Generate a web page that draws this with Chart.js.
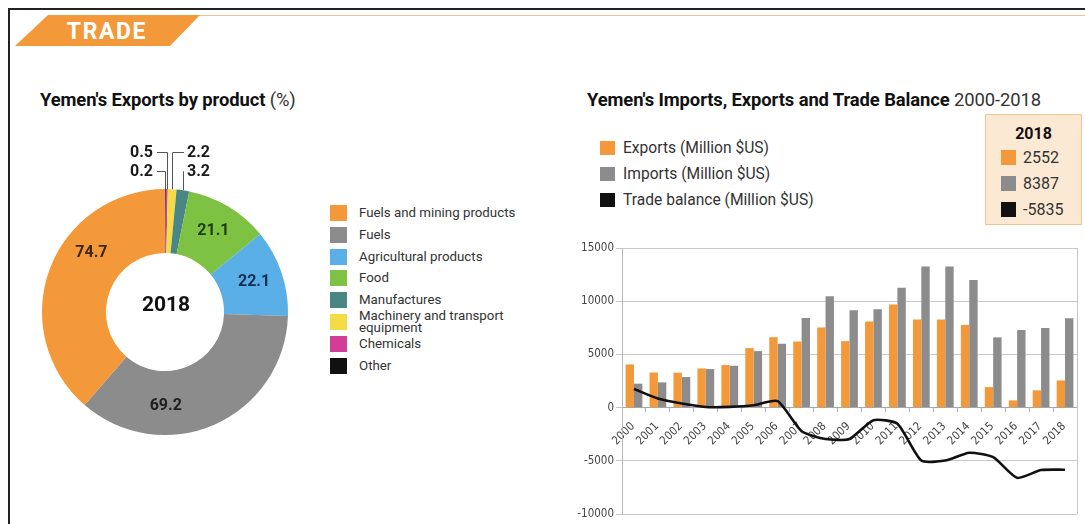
<!DOCTYPE html>
<html>
<head>
<meta charset="utf-8">
<title>Yemen trade</title>
<script src="https://cdn.jsdelivr.net/npm/chart.js@4/dist/chart.umd.min.js"></script>
<style>
  html, body { margin: 0; padding: 0; background: #fff; width: 1085px; height: 524px; overflow: hidden; }
  body { position: relative; font-family: Roboto, "Noto Sans", sans-serif; color: #2a2a2a; }
  .frame { position: absolute; left: 8px; top: 8px; width: 1100px; height: 540px; border-left: 2px solid #222; border-top: 2px solid #222; }
  .rule { position: absolute; left: 195px; right: 0; top: 15px; height: 1px; background: #f2c590; }
  .banner { position: absolute; left: 0; top: 0; }
  .title { position: absolute; font-size: 18.4px; line-height: 20px; font-weight: 700; color: #111; white-space: nowrap; letter-spacing: -0.1px; }
  .title span { font-weight: 400; color: #333; }
  .leg { position: absolute; }
  .leg .sw { position: absolute; }
  .leg .tx { position: absolute; white-space: nowrap; }
  #pieLegend .tx { font-size: 13.3px; line-height: 12px; color: #333; }
  #tradeLegend .tx { font-size: 15.6px; line-height: 16px; color: #333; }
  .box { position: absolute; left: 985px; top: 114px; width: 97px; height: 111px; background: #fce9d4; border: 1px solid #efc594; box-sizing: border-box; }
  .box .hd { position: absolute; left: 0; right: 0; top: 9px; text-align: center; font-weight: 700; font-size: 16px; color: #111; }
  .box .sw { position: absolute; left: 15px; width: 15px; height: 15px; }
  .box .tx { position: absolute; left: 37px; font-size: 16px; line-height: 16px; color: #333; }
  canvas { position: absolute; }
</style>
</head>
<body>
<div class="frame"></div>
<div class="rule"></div>
<svg class="banner" width="230" height="60">
  <polygon points="48,15 200,15 170,46 15,46" fill="#f4993a"/>
  <text x="107" y="38.5" text-anchor="middle" fill="#fff" font-family="Roboto, sans-serif" font-weight="700" font-size="23" letter-spacing="1.6">TRADE</text>
</svg>

<div class="title" style="left:40px; top:90px;">Yemen's Exports by product <span>(%)</span></div>
<div class="title" style="left:587px; top:90px;">Yemen's Imports, Exports and Trade Balance <span>2000-2018</span></div>

<canvas id="pie" width="290" height="300" style="left:20px; top:140px; width:290px; height:300px;"></canvas>
<div id="pieLegend" class="leg"></div>

<div id="tradeLegend" class="leg"></div>
<div class="box" id="box2018"><div class="hd">2018</div></div>

<canvas id="trade" width="510" height="286" style="left:575px; top:238px; width:510px; height:286px;"></canvas>

<script>
// ---- Exports by product, 2018 (%) ----
const products = ['Fuels and mining products', 'Fuels', 'Agricultural products', 'Food',
                  'Manufactures', 'Machinery and transport equipment', 'Chemicals', 'Other'];
const productShares = [74.7, 69.2, 22.1, 21.1, 3.2, 2.2, 0.5, 0.2];
const productColours = ['#f4993a', '#8c8c8c', '#5aafe6', '#7dc243', '#4a8784', '#f3dc46', '#d43d97', '#111111'];
const productLabelColours = ['#3d2510', '#1f1f1f', '#0e2f55', '#1d3d0c'];

// ---- Imports, exports and trade balance (million US$) ----
const years = ['2000', '2001', '2002', '2003', '2004', '2005', '2006', '2007', '2008', '2009',
               '2010', '2011', '2012', '2013', '2014', '2015', '2016', '2017', '2018'];
const exportsMUSD = [4060, 3300, 3280, 3680, 4000, 5590, 6620, 6210, 7530, 6250,
                     8100, 9700, 8270, 8270, 7770, 1930, 680, 1620, 2552];
const importsMUSD = [2250, 2370, 2870, 3620, 3930, 5310, 6000, 8430, 10460, 9150,
                     9250, 11260, 13260, 13260, 12000, 6600, 7290, 7480, 8387];
const balanceMUSD = [1750, 850, 380, 60, 70, 220, 600, -2220, -2950, -2950,
                     -1180, -1520, -4980, -4980, -4240, -4660, -6600, -5870, -5835];
const valueTicks = [-10000, -5000, 0, 5000, 10000, 15000];

const tradeSeries = [
  { name: 'Exports (Million $US)', colour: '#f4993a', values: exportsMUSD },
  { name: 'Imports (Million $US)', colour: '#8c8c8c', values: importsMUSD },
  { name: 'Trade balance (Million $US)', colour: '#111111', values: balanceMUSD }
];

// Legend beside the doughnut
const pieLegend = document.getElementById('pieLegend');
products.forEach((name, i) => {
  const top = 205 + i * 21.8;
  const sw = document.createElement('div');
  sw.className = 'sw';
  sw.style.cssText = `left:330px; top:${top}px; width:17px; height:16px; background:${productColours[i]}`;
  const tx = document.createElement('div');
  tx.className = 'tx';
  const words = name === 'Machinery and transport equipment' ? 'Machinery and transport<br>equipment' : name;
  const lines = words.includes('<br>') ? 2 : 1;
  tx.style.cssText = `left:359px; top:${top + 8 - lines * 6}px;`;
  tx.innerHTML = words;
  pieLegend.appendChild(sw);
  pieLegend.appendChild(tx);
});

// Legend above the trade chart and the 2018 summary box
const tradeLegend = document.getElementById('tradeLegend');
const box = document.getElementById('box2018');
tradeSeries.forEach((s, i) => {
  const top = 141 + i * 26;
  const sw = document.createElement('div');
  sw.className = 'sw';
  sw.style.cssText = `left:600px; top:${top}px; width:15px; height:14px; background:${s.colour}`;
  const tx = document.createElement('div');
  tx.className = 'tx';
  tx.style.cssText = `left:623px; top:${top - 1}px;`;
  tx.textContent = s.name;
  tradeLegend.appendChild(sw);
  tradeLegend.appendChild(tx);

  const bsw = document.createElement('div');
  bsw.className = 'sw';
  bsw.style.cssText = `top:${35 + i * 26}px; background:${s.colour}`;
  const btx = document.createElement('div');
  btx.className = 'tx';
  btx.style.cssText = `top:${35 + i * 26}px;`;
  btx.textContent = String(s.values[s.values.length - 1]);
  box.appendChild(bsw);
  box.appendChild(btx);
});

// ---- Doughnut: slices run counter-clockwise from 12 o'clock in legend order ----
const drawOrder = products.map((_, i) => i).reverse();

const sliceLabels = {
  id: 'sliceLabels',
  afterDatasetsDraw(chart, args, opts) {
    const ctx = chart.ctx;
    const meta = chart.getDatasetMeta(0);
    ctx.save();
    meta.data.forEach((arc, k) => {
      const p = drawOrder[k];
      const value = productShares[p];
      const { x, y, startAngle, endAngle, innerRadius, outerRadius } = arc.getProps(
        ['x', 'y', 'startAngle', 'endAngle', 'innerRadius', 'outerRadius'], true);
      const inside = opts.inside[p];
      if (inside) {
        const a = startAngle + (endAngle - startAngle) * inside.at;
        const r = (innerRadius + outerRadius) / 2 + 3;
        ctx.font = 'bold 16px Roboto, sans-serif';
        ctx.fillStyle = productLabelColours[p];
        ctx.textAlign = 'center';
        ctx.textBaseline = 'middle';
        ctx.fillText(value.toFixed(1), x + Math.cos(a) * r, y + Math.sin(a) * r);
      }
      const outside = opts.outside[p];
      if (outside) {
        const a = (startAngle + endAngle) / 2;
        const x0 = x + Math.cos(a) * outerRadius;
        const y0 = y + Math.sin(a) * outerRadius;
        const ly = y - outerRadius - (outside.row === 1 ? 37 : 18);
        const lx = outside.side === 'left' ? x - 12 : x + 22;
        ctx.strokeStyle = '#555';
        ctx.lineWidth = 1;
        ctx.beginPath();
        ctx.moveTo(Math.round(x0) + 0.5, y0);
        ctx.lineTo(Math.round(x0) + 0.5, Math.round(ly) + 0.5);
        ctx.lineTo(outside.side === 'left' ? lx + 4 : lx - 3, Math.round(ly) + 0.5);
        ctx.stroke();
        ctx.font = 'bold 16px Roboto, sans-serif';
        ctx.fillStyle = '#1a1a1a';
        ctx.textAlign = outside.side === 'left' ? 'right' : 'left';
        ctx.textBaseline = 'middle';
        ctx.fillText(value.toFixed(1), lx, ly + 1);
      }
    });
    // year in the hole
    const c = meta.data[0];
    ctx.font = 'bold 21px Roboto, sans-serif';
    ctx.fillStyle = '#111';
    ctx.textAlign = 'center';
    ctx.textBaseline = 'middle';
    ctx.fillText(opts.centre, c.x + 1, c.y - 6);
    ctx.restore();
  }
};

new Chart(document.getElementById('pie'), {
  type: 'doughnut',
  data: {
    labels: drawOrder.map(i => products[i]),
    datasets: [{
      data: drawOrder.map(i => productShares[i]),
      backgroundColor: drawOrder.map(i => productColours[i]),
      borderWidth: 0,
      hoverOffset: 0
    }]
  },
  options: {
    responsive: false,
    animation: false,
    cutout: '48%',
    layout: { padding: { left: 22, right: 22, top: 49, bottom: 5 } },
    plugins: {
      legend: { display: false },
      tooltip: { enabled: false },
      sliceLabels: {
        centre: '2018',
        inside: { 0: { at: 0.63 }, 1: { at: 0.68 }, 2: { at: 0.5 }, 3: { at: 0.5 } },
        outside: {
          4: { side: 'right', row: 2 },
          5: { side: 'right', row: 1 },
          6: { side: 'left', row: 1 },
          7: { side: 'left', row: 2 }
        }
      }
    }
  },
  plugins: [sliceLabels]
});

// ---- Bars and balance line ----
const plotFrame = {
  id: 'plotFrame',
  beforeDatasetsDraw(chart) {
    const { ctx, chartArea } = chart;
    ctx.save();
    ctx.strokeStyle = '#c4c4c4';
    ctx.lineWidth = 1;
    ctx.beginPath();
    ctx.moveTo(Math.round(chartArea.right) + 0.5, chartArea.top);
    ctx.lineTo(Math.round(chartArea.right) + 0.5, chartArea.bottom);
    ctx.stroke();
    ctx.restore();
  }
};

const axisFont = { family: "'Liberation Sans Narrow', 'DejaVu Sans Condensed', 'Roboto Condensed', sans-serif", size: 11.5 };

new Chart(document.getElementById('trade'), {
  data: {
    labels: years,
    datasets: [
      { type: 'line', data: balanceMUSD, borderColor: '#111', borderWidth: 2.6, pointRadius: 0,
        tension: 0.2, order: 0, clip: false },
      { type: 'bar', data: exportsMUSD, backgroundColor: '#f4993a', categoryPercentage: 0.7, barPercentage: 1, order: 1 },
      { type: 'bar', data: importsMUSD, backgroundColor: '#8c8c8c', categoryPercentage: 0.7, barPercentage: 1, order: 1 }
    ]
  },
  options: {
    responsive: false,
    animation: false,
    layout: { padding: { top: 10, bottom: 10, right: 8, left: 0 } },
    plugins: { legend: { display: false }, tooltip: { enabled: false } },
    scales: {
      x: {
        position: { y: 0 },
        afterFit: s => { s.height = 0; },
        grid: { display: true, drawOnChartArea: false, drawTicks: true, tickLength: 4, color: '#9fb0c6', offset: true },
        border: { display: true, color: '#a8a8a8' },
        ticks: { minRotation: 45, maxRotation: 45, padding: 8, labelOffset: -1, color: '#444', font: axisFont, autoSkip: false }
      },
      y: {
        min: -10000, max: 15000,
        afterBuildTicks: s => { s.ticks = valueTicks.map(v => ({ value: v })); },
        afterFit: s => { s.width = 47; },
        grid: { color: '#c8c8c8', tickLength: 6 },
        border: { display: true, color: '#b8b8b8' },
        ticks: { color: '#444', padding: 2, font: axisFont, callback: v => String(v) }
      }
    }
  },
  plugins: [plotFrame]
});
</script>
</body>
</html>
